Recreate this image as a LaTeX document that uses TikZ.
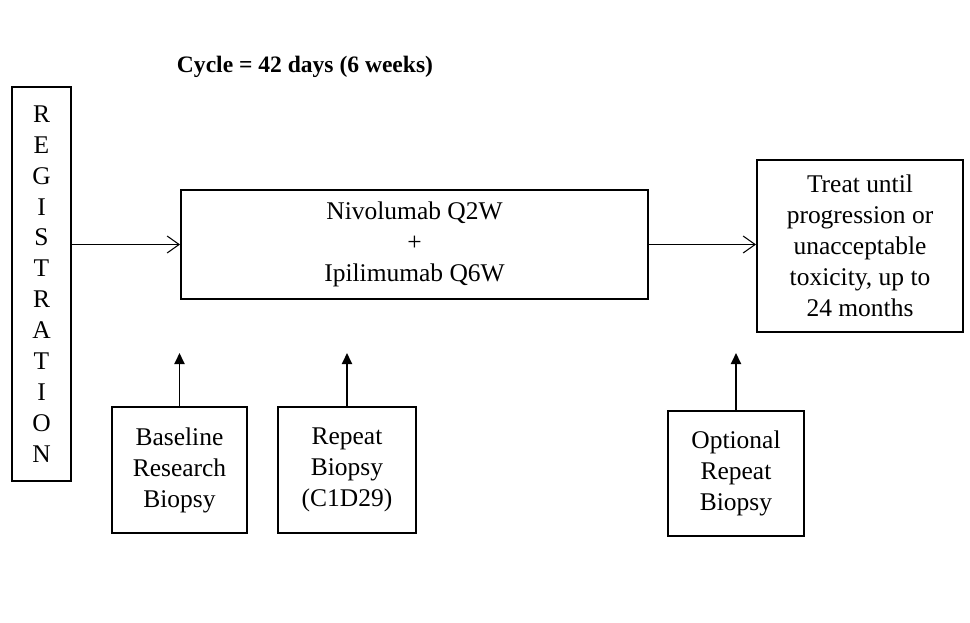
\documentclass[tikz,border=0pt]{standalone}
\usepackage{fontspec}
\setmainfont{Liberation Serif}
\usepackage{tikz}
\usetikzlibrary{arrows.meta,positioning}

\tikzset{
  blk/.style={draw,line width=1.1pt,align=center,inner sep=0pt,font=\fontsize{14.5}{17.6}\selectfont},
  open/.style={-{Straight Barb[length=2.4mm,width=3.4mm]},semithick},
  solid tip/.style={-{Triangle[length=2.2mm,width=2mm]},line width=1.1pt}
}

\begin{document}
\begin{tikzpicture}[x=0.02cm,y=-0.02cm]
\useasboundingbox (0,0) rectangle (970,622);
\node[font=\bfseries\fontsize{13.4}{16}\selectfont] (cyc) at (305,67) {Cycle = 42 days (6 weeks)};
\node[blk,minimum width=59*0.02cm,minimum height=394*0.02cm] (reg) at (41.5,284) {R\\E\\G\\I\\S\\T\\R\\A\\T\\I\\O\\N};
\node[blk,minimum width=467*0.02cm,minimum height=109*0.02cm] (drug) at (414.5,244.5) {Nivolumab Q2W\\+\\Ipilimumab Q6W};
\node[blk,minimum width=206*0.02cm,minimum height=172*0.02cm] (treat) at (860,246) {Treat until\\progression or\\unacceptable\\toxicity, up to\\24 months};
%biopsies
\node[blk,minimum width=135*0.02cm,minimum height=126*0.02cm] (base) at (179.5,470) {Baseline\\Research\\Biopsy};
\node[blk,minimum width=138*0.02cm,minimum height=126*0.02cm] (rep) at (347,470) {Repeat\\Biopsy\\(C1D29)};
\node[blk,minimum width=136*0.02cm,minimum height=125*0.02cm] (opt) at (736,473.5) {Optional\\Repeat\\Biopsy};
\coordinate (t1) at (179.5,353);
\coordinate (t2) at (347,353);
\coordinate (t3) at (736,353);

\draw[open] (reg.east |- drug) -- (drug.west);
\draw[open] (drug.east) -- (treat.west |- drug);
\draw[solid tip] (base.north) -- (t1);
\draw[solid tip] (rep.north) -- (t2);
\draw[solid tip] (opt.north) -- (t3);
\end{tikzpicture}
\end{document}
